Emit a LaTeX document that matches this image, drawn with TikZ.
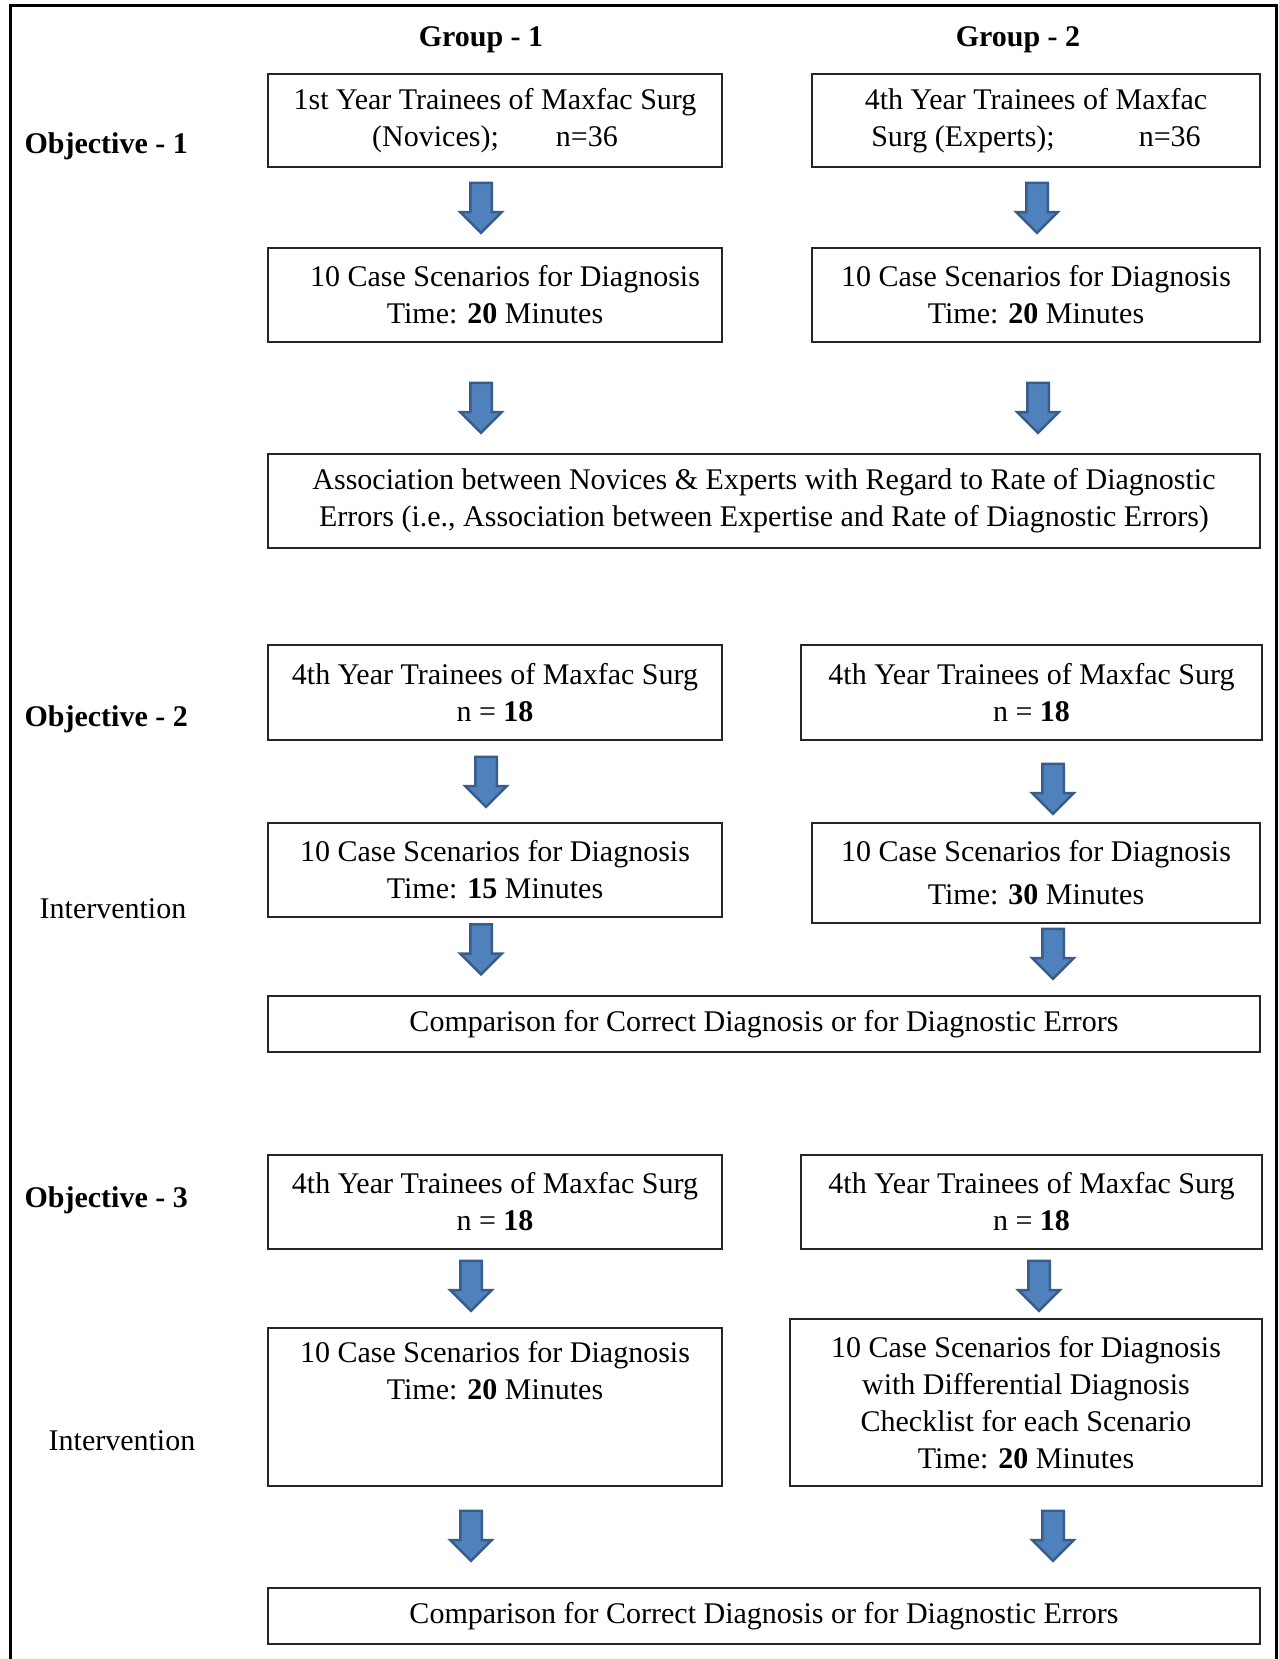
\documentclass[tikz,border=0pt]{standalone}
\usepackage{fontspec}
\setmainfont{Liberation Serif}
\usetikzlibrary{shapes.arrows}

\definecolor{arrowfill}{HTML}{4F81BD}
\definecolor{arrowline}{HTML}{385D8A}

\tikzset{
  box/.style={draw=black!85, line width=1.4pt, align=center, inner sep=0pt,
    font=\fontsize{30}{37}\selectfont},
  grouphead/.style={font=\fontsize{30}{37}\selectfont\bfseries},
  objlabel/.style={anchor=west, font=\fontsize{30}{37}\selectfont\bfseries},
  sidelabel/.style={font=\fontsize{30}{37}\selectfont},
  blockarrow/.style={single arrow, draw=arrowline, fill=arrowfill, line width=2.5pt,
    rotate=-90, minimum height=50pt, inner xsep=0pt, inner ysep=9.5pt,
    single arrow head extend=10pt}
}

\begin{document}
\begin{tikzpicture}[x=1pt, y=-1pt]
        \useasboundingbox (0,0) rectangle (1279,1659);
        % Frame
        \draw [line width=3pt] (10,1680) -- (10,6) -- (1276,6) -- (1276,1680);

        % Headings
        \node (G1) [grouphead] at (481,40) {Group - 1};
        \node (G2) [grouphead] at (1018,40) {Group - 2};
        \node (O1) [objlabel] at (21,146) {Objective - 1};
        \node (O2) [objlabel] at (21,719) {Objective - 2};
        \node (O3) [objlabel] at (21,1200) {Objective - 3};
        \node (I2) [sidelabel] at (113,909) {Intervention};
        \node (I3) [sidelabel] at (122,1441) {Intervention};

        % Objective 1
        \node (A1) [box, minimum width=454pt, minimum height=93pt] at (495,120.5)
            {1st Year Trainees of Maxfac Surg\\(Novices);\hspace{1.9em}n=36};
        \node (B1) [box, minimum width=448pt, minimum height=93pt] at (1036,120.5)
            {4th Year Trainees of Maxfac\\Surg (Experts);\hspace{2.8em}n=36};
        \node (A2) [box, minimum width=454pt, minimum height=94pt] at (495,295)
            {\hspace*{20pt}10 Case Scenarios for Diagnosis\\Time: \textbf{20} Minutes};
        \node (B2) [box, minimum width=448pt, minimum height=94pt] at (1036,295)
            {10 Case Scenarios for Diagnosis\\Time: \textbf{20} Minutes};
        \node (AB) [box, minimum width=992pt, minimum height=94pt] at (764,501)
            {Association between Novices \& Experts with Regard to Rate of Diagnostic\\Errors (i.e., Association between Expertise and Rate of Diagnostic Errors)};

        % Objective 2
        \node (A3) [box, minimum width=454pt, minimum height=95pt] at (495,692.5)
            {4th Year Trainees of Maxfac Surg\\n = \textbf{18}};
        \node (B3) [box, minimum width=461pt, minimum height=95pt] at (1031.5,692.5)
            {4th Year Trainees of Maxfac Surg\\n = \textbf{18}};
        \node (A4) [box, minimum width=454pt, minimum height=94pt] at (495,870)
            {10 Case Scenarios for Diagnosis\\Time: \textbf{15} Minutes};
        \node (B4) [box, minimum width=448pt, minimum height=100pt] at (1036,873)
            {10 Case Scenarios for Diagnosis\\[6pt]Time: \textbf{30} Minutes};
        \node (C1) [box, minimum width=992pt, minimum height=56pt] at (764,1024)
            {Comparison for Correct Diagnosis or for Diagnostic Errors};

        % Objective 3
        \node (A5) [box, minimum width=454pt, minimum height=94pt] at (495,1202)
            {4th Year Trainees of Maxfac Surg\\n = \textbf{18}};
        \node (B5) [box, minimum width=461pt, minimum height=94pt] at (1031.5,1202)
            {4th Year Trainees of Maxfac Surg\\n = \textbf{18}};
        \node (A6) [box, minimum width=454pt, minimum height=158pt] at (495,1407)
            {10 Case Scenarios for Diagnosis\\Time: \textbf{20} Minutes\\\mbox{}\\\mbox{}};
        \node (B6) [box, minimum width=472pt, minimum height=167pt] at (1026,1402.5)
            {10 Case Scenarios for Diagnosis\\with Differential Diagnosis\\Checklist for each Scenario\\Time: \textbf{20} Minutes};
        \node (C2) [box, minimum width=992pt, minimum height=56pt] at (764,1616)
            {Comparison for Correct Diagnosis or for Diagnostic Errors};

        % Arrows
        \node (arA1) [blockarrow] at (481,202.5) {};
        \node (arB1) [blockarrow] at (1037,202.5) {};
        \node (arA2) [blockarrow] at (481,402.5) {};
        \node (arB2) [blockarrow] at (1038,402.5) {};
        \node (arA3) [blockarrow] at (486,776.5) {};
        \node (arB3) [blockarrow] at (1053,783.5) {};
        \node (arA4) [blockarrow] at (481,944) {};
        \node (arB4) [blockarrow] at (1053,948.5) {};
        \node (arA5) [blockarrow] at (471,1280.5) {};
        \node (arB5) [blockarrow] at (1039,1280.5) {};
        \node (arA6) [blockarrow] at (471,1530.5) {};
        \node (arB6) [blockarrow] at (1053,1530.5) {};
    \end{tikzpicture}
\end{document}
